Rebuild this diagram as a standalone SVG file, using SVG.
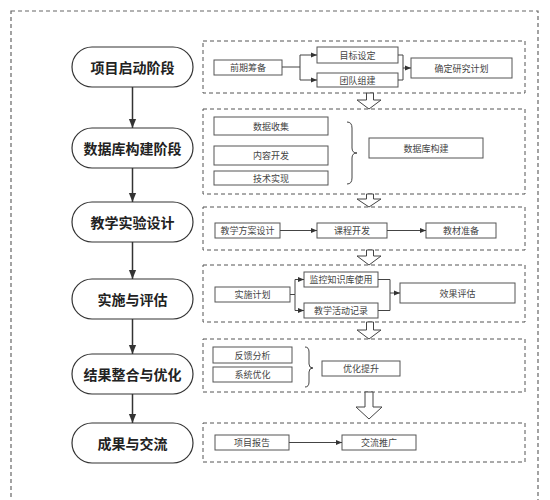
<svg xmlns="http://www.w3.org/2000/svg" width="550" height="500" viewBox="0 0 550 500">
<defs>
<style>
.outer{fill:none;stroke:#666;stroke-width:1.2;stroke-dasharray:4 3}
.grp{fill:none;stroke:#555;stroke-width:1;stroke-dasharray:4 3}
.stage rect{fill:#fff;stroke:#333;stroke-width:1.2}
.stage text{font-family:"Noto Sans CJK SC","Noto Sans",sans-serif;font-size:14px;font-weight:bold;fill:#222;text-anchor:middle;dominant-baseline:central}
.box rect{fill:#fff;stroke:#555;stroke-width:1}
.box text{font-family:"Noto Sans CJK SC","Noto Sans",sans-serif;font-size:9px;fill:#444;text-anchor:middle;dominant-baseline:central}
.ln{fill:none;stroke:#444;stroke-width:1}
.sa{fill:none;stroke:#333;stroke-width:1.5}
.blk{fill:#fff;stroke:#444;stroke-width:1}
.brace{fill:none;stroke:#444;stroke-width:1}
</style>
<marker id="ah" viewBox="0 0 10 10" refX="10" refY="5" markerWidth="6" markerHeight="6" orient="auto" markerUnits="userSpaceOnUse">
<path d="M0,1 L10,5 L0,9 z" fill="#333"/>
</marker>
<marker id="ahs" viewBox="0 0 10 10" refX="10" refY="5" markerWidth="9" markerHeight="9" orient="auto" markerUnits="userSpaceOnUse">
<path d="M0,1 L10,5 L0,9 z" fill="#333"/>
</marker>
</defs>
<rect width="550" height="500" fill="#fff"/>
<rect class="outer" x="11" y="11" width="527" height="500"/>

<g id="groups">
<rect class="grp" x="203" y="41" width="322" height="52"/>
<rect class="grp" x="203" y="109" width="322" height="85"/>
<rect class="grp" x="203" y="207" width="322" height="43"/>
<rect class="grp" x="203" y="265" width="322" height="57"/>
<rect class="grp" x="203" y="339" width="322" height="53"/>
<rect class="grp" x="203" y="423" width="322" height="39"/>
</g>

<g id="stage1" class="stage"><rect x="72" y="47" width="121" height="40" rx="20"/><text x="132.5" y="67">项目启动阶段</text></g>
<g id="stage2" class="stage"><rect x="72" y="128" width="121" height="40" rx="20"/><text x="132.5" y="148">数据库构建阶段</text></g>
<g id="stage3" class="stage"><rect x="72" y="202" width="121" height="40" rx="20"/><text x="132.5" y="222">教学实验设计</text></g>
<g id="stage4" class="stage"><rect x="72" y="279" width="121" height="40" rx="20"/><text x="132.5" y="299">实施与评估</text></g>
<g id="stage5" class="stage"><rect x="72" y="354" width="121" height="40" rx="20"/><text x="132.5" y="374">结果整合与优化</text></g>
<g id="stage6" class="stage"><rect x="72" y="423" width="121" height="40" rx="20"/><text x="132.5" y="443">成果与交流</text></g>

<g id="n-qqcb" class="box"><rect x="214" y="60" width="68" height="15"/><text x="248" y="67.5">前期筹备</text></g>
<g id="n-mbsd" class="box"><rect x="317" y="47" width="81" height="16"/><text x="357.5" y="55">目标设定</text></g>
<g id="n-tdzj" class="box"><rect x="317" y="73" width="81" height="14"/><text x="357.5" y="80">团队组建</text></g>
<g id="n-qdyj" class="box"><rect x="411" y="58" width="101" height="20"/><text x="461.5" y="68">确定研究计划</text></g>

<g id="n-sjsj" class="box"><rect x="214" y="117" width="114" height="18"/><text x="271" y="126">数据收集</text></g>
<g id="n-nrkf" class="box"><rect x="214" y="146" width="114" height="19"/><text x="271" y="155.5">内容开发</text></g>
<g id="n-jssx" class="box"><rect x="214" y="171" width="114" height="14"/><text x="271" y="178">技术实现</text></g>
<g id="n-sjkgj" class="box"><rect x="369" y="138" width="114" height="20"/><text x="426" y="148">数据库构建</text></g>

<g id="n-jxfa" class="box"><rect x="215" y="223" width="65" height="15"/><text x="247.5" y="230.5">教学方案设计</text></g>
<g id="n-kckf" class="box"><rect x="317" y="223" width="70" height="15"/><text x="352" y="230.5">课程开发</text></g>
<g id="n-jczb" class="box"><rect x="426" y="223" width="70" height="15"/><text x="461" y="230.5">教材准备</text></g>

<g id="n-ssjh" class="box"><rect x="215" y="287" width="75" height="15"/><text x="252.5" y="294.5">实施计划</text></g>
<g id="n-jkzs" class="box"><rect x="304" y="272" width="74" height="15"/><text x="341" y="279.5">监控知识库使用</text></g>
<g id="n-jxhd" class="box"><rect x="304" y="303" width="74" height="15"/><text x="341" y="310.5">教学活动记录</text></g>
<g id="n-xgpg" class="box"><rect x="400" y="283" width="115" height="20"/><text x="457.5" y="293">效果评估</text></g>

<g id="n-fkfx" class="box"><rect x="213" y="347" width="79" height="16"/><text x="252.5" y="355">反馈分析</text></g>
<g id="n-xtyh" class="box"><rect x="213" y="367" width="79" height="15"/><text x="252.5" y="374.5">系统优化</text></g>
<g id="n-yhts" class="box"><rect x="322" y="361" width="78" height="15"/><text x="361" y="368.5">优化提升</text></g>

<g id="n-xmbg" class="box"><rect x="215" y="435" width="74" height="15"/><text x="252" y="442.5">项目报告</text></g>
<g id="n-jltg" class="box"><rect x="342" y="435" width="74" height="15"/><text x="379" y="442.5">交流推广</text></g>

<g id="connectors">
<line class="sa" x1="132.5" y1="87" x2="132.5" y2="128" marker-end="url(#ahs)"/>
<line class="sa" x1="132.5" y1="168" x2="132.5" y2="202" marker-end="url(#ahs)"/>
<line class="sa" x1="132.5" y1="242" x2="132.5" y2="279" marker-end="url(#ahs)"/>
<line class="sa" x1="132.5" y1="319" x2="132.5" y2="354" marker-end="url(#ahs)"/>
<line class="sa" x1="132.5" y1="394" x2="132.5" y2="423" marker-end="url(#ahs)"/>

<path class="ln" d="M282,67 H300 V55 H317" marker-end="url(#ah)"/>
<path class="ln" d="M300,67 V80 H317" marker-end="url(#ah)"/>
<path class="ln" d="M398,55 H403 V80 H398"/>
<path class="ln" d="M403,68 H411" marker-end="url(#ah)"/>

<path class="brace" d="M347,122 Q352,122 352,128 V148 Q352,153 357,153 Q352,153 352,158 V178 Q352,184 347,184"/>

<line class="ln" x1="280" y1="230.5" x2="317" y2="230.5" marker-end="url(#ah)"/>
<line class="ln" x1="387" y1="230.5" x2="426" y2="230.5" marker-end="url(#ah)"/>

<path class="ln" d="M290,294.5 H295 V279.5 H304" marker-end="url(#ah)"/>
<path class="ln" d="M295,294.5 V310.5 H304" marker-end="url(#ah)"/>
<path class="ln" d="M378,279.5 H390 V310.5 H378"/>
<path class="ln" d="M390,293 H400" marker-end="url(#ah)"/>

<path class="brace" d="M305,347 Q309,347 309,352 V364 Q309,368 313,368 Q309,368 309,372 V382 Q309,387 305,387"/>

<line class="ln" x1="289" y1="442.5" x2="342" y2="442.5" marker-end="url(#ah)"/>

<path class="blk" d="M366.5,93 H373.5 V100 H381 L369,109 L357,100 H366.5 Z"/>
<path class="blk" d="M366.5,194 H373.5 V199 H381 L369,207 L357,199 H366.5 Z"/>
<path class="blk" d="M366.5,250 H373.5 V256 H381 L369,265 L357,256 H366.5 Z"/>
<path class="blk" d="M366.5,322 H373.5 V330 H381 L369,339 L357,330 H366.5 Z"/>
<path class="blk" d="M365,392 H373 V407 H382 L369,419 L356,407 H365 Z"/>
</g>
</svg>
